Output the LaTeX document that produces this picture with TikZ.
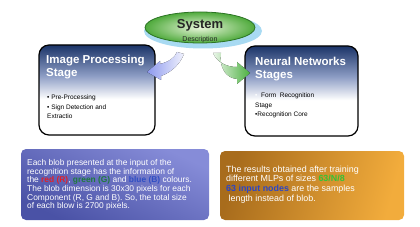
\documentclass[tikz,border=0pt]{standalone}
\usepackage{fontspec}
\setmainfont{Liberation Sans}
\usetikzlibrary{arrows.meta,shapes.geometric}
\definecolor{stagetop}{HTML}{1B3468}
\definecolor{stagemid}{HTML}{8C9CC4}
\definecolor{sysgreen}{HTML}{4FAA3C}
\definecolor{syslight}{HTML}{E8F6DA}
\definecolor{sysrim}{HTML}{2C7424}
\definecolor{sysbase}{HTML}{A8DAF2}
\definecolor{arrblue}{HTML}{8C98EE}
\definecolor{arrgreen}{HTML}{4CB040}
\definecolor{cred}{HTML}{E0202A}
\definecolor{cgreen}{HTML}{1E7A3C}
\definecolor{cblue}{HTML}{2F4EC4}
\definecolor{cgrn}{HTML}{36C236}
\definecolor{cblu}{HTML}{2A46C8}
\definecolor{blobtop}{HTML}{868CD8}
\definecolor{blobbot}{HTML}{4A52A6}
\definecolor{mlpdark}{HTML}{A86C1C}
\definecolor{mlplight}{HTML}{F2AC3C}
\pgfdeclareverticalshading{stageshade}{100bp}{color(0bp)=(white); color(25bp)=(white); color(45bp)=(white); color(58bp)=(stagemid); color(75bp)=(stagetop); color(100bp)=(stagetop)}
\tikzset{
  stagebox/.style={draw=black, line width=1.2pt, rounded corners=10pt, shading=stageshade, minimum width=#1, minimum height=90pt, inner sep=0pt},
  stagetitle/.style={anchor=north west, inner sep=0pt, align=left, text=white, font=\fontsize{11.5}{13}\selectfont\bfseries},
  stagelist/.style={anchor=north west, inner sep=0pt, align=left, text=black, font=\fontsize{6.5}{9.5}\selectfont},
  infotext/.style={anchor=north west, inner sep=0pt, align=left, text=white},
  infobox/.style={rounded corners=5pt, inner sep=0pt}
}
\begin{document}
\begin{tikzpicture}[x=1pt,y=-1pt]
\useasboundingbox (0,0) rectangle (420,227);
% system ellipse
\node[ellipse, fill=sysbase, minimum width=118pt, minimum height=35pt] (sysb) at (203,31) {};
\node[ellipse, draw=sysrim, line width=0.8pt, inner color=syslight, outer color=sysgreen, minimum width=110pt, minimum height=31pt] (sys) at (200,27.5) {};
\node[inner sep=0pt, font=\fontsize{13}{15}\selectfont\bfseries, text=black!85] (systitle) at (200,25) {System};
\node[inner sep=0pt, font=\fontsize{7}{8}\selectfont, text=black!85] (sysdesc) at (200,39.5) {Description};
% stage boxes
\node[stagebox=116pt] (ips) at (97,90) {};
\node[stagetitle] (ipst) at (46,55) {Image Processing\\Stage};
\node[stagelist] (ipsl) at (47,95) {\textbullet\ Pre-Processing\\\textbullet\ Sign Detection and\\Extractio};
\node[stagebox=113pt] (nns) at (301.5,91) {};
\node[stagetitle] (nnst) at (255,57) {Neural Networks\\Stages};
\node[stagelist] (nnsl) at (255,93) {\textcolor{white}{\textbullet}\ \ Form\ \ Recognition\\Stage\\\textbullet Recognition Core};
% arrows
\coordinate (btip) at (147,72);
\coordinate (gtip) at (250,73);
\fill[left color=arrblue, right color=arrblue!12] (177,52) .. controls (175,58) and (168,62) .. (160,64) -- (160,61) -- (btip) -- (161,80) -- (161,76) .. controls (172,72) and (180,64) .. (184,54) -- cycle;
\fill[left color=arrgreen!12, right color=arrgreen] (213,53) .. controls (217,62) and (226,67) .. (237,67) -- (237,62) -- (gtip) -- (237,84) -- (237,79) .. controls (226,78) and (219,68) .. (221,53) -- cycle;
% info boxes
\node[infobox, minimum width=188pt, minimum height=71pt, top color=blobtop, bottom color=blobbot, shading angle=-25] (blobbox) at (115,184.5) {};
\node[infotext, font=\fontsize{8.4}{8.6}\selectfont] (blobtext) at (27,159.5) {Each blob presented at the input of the\\recognition stage has the information of\\the \textcolor{cred}{\textbf{red (R)}}, \textcolor{cgreen}{\textbf{green (G)}} and \textcolor{cblue}{\textbf{blue (B)}} colours.\\The blob dimension is 30x30 pixels for each\\Component (R, G and B). So, the total size\\of each blow is 2700 pixels.};
\node[infobox, minimum width=184pt, minimum height=69pt, left color=mlpdark, right color=mlplight, shading angle=75] (mlpbox) at (312,185.5) {};
\node[infotext, font=\fontsize{8.9}{9.7}\selectfont] (mlptext) at (226,165.5) {The results obtained after training\\different MLPs of sizes \textcolor{cgrn}{\textbf{63/N/8}}\\\textcolor{cblu}{\textbf{63 input nodes}} are the samples\\\ length instead of blob.};
\end{tikzpicture}
\end{document}
